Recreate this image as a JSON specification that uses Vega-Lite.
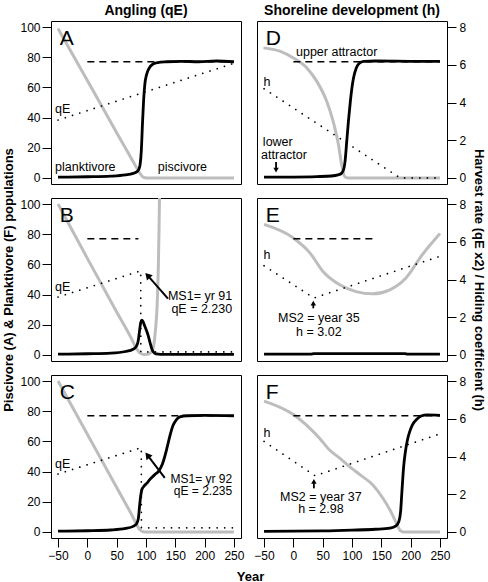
{
"$schema":"https://vega.github.io/schema/vega-lite/v6.json",
"padding":{"left":2,"top":3,"right":0,"bottom":0},
"bounds":"flush",
"columns":2,
"spacing":{"row":14,"column":16},
"config":{"font":"Liberation Sans","view":{"stroke":"black","strokeWidth":1},
 "axis":{"domain":false,"grid":false,"tickColor":"black","labelColor":"black","labelFontSize":12,"tickSize":9,"titleFontSize":13,"titleFontWeight":"bold","titleColor":"black"},
 "text":{"color":"black"}},
"datasets":{"d":[
{"p":"A","k":"F","year":-50,"val":99},{"p":"A","k":"F","year":0,"val":64.6},{"p":"A","k":"F","year":50,"val":30},{"p":"A","k":"F","year":80,"val":9.5},{"p":"A","k":"F","year":86,"val":5.3},{"p":"A","k":"F","year":90,"val":2.8},{"p":"A","k":"F","year":94,"val":0.9},{"p":"A","k":"F","year":98,"val":0.2},{"p":"A","k":"F","year":105,"val":0},{"p":"A","k":"F","year":250,"val":0},
{"p":"A","k":"A","year":-50,"val":0.5},{"p":"A","k":"A","year":0,"val":0.8},{"p":"A","k":"A","year":40,"val":1.2},{"p":"A","k":"A","year":65,"val":2},{"p":"A","k":"A","year":78,"val":3},{"p":"A","k":"A","year":84,"val":4},{"p":"A","k":"A","year":88,"val":6},{"p":"A","k":"A","year":90,"val":9},{"p":"A","k":"A","year":92,"val":18},{"p":"A","k":"A","year":94,"val":36},{"p":"A","k":"A","year":96,"val":52},{"p":"A","k":"A","year":98,"val":62},{"p":"A","k":"A","year":101,"val":68.5},{"p":"A","k":"A","year":105,"val":72.5},{"p":"A","k":"A","year":112,"val":75.5},{"p":"A","k":"A","year":120,"val":76.5},{"p":"A","k":"A","year":135,"val":77},{"p":"A","k":"A","year":160,"val":77.3},{"p":"A","k":"A","year":190,"val":77},{"p":"A","k":"A","year":220,"val":77.5},{"p":"A","k":"A","year":250,"val":77},
{"p":"A","k":"rate","year":-50,"val":3.07},{"p":"A","k":"rate","year":250,"val":6.08},
{"p":"A","k":"dash","year":0,"year2":250,"val":77},
{"p":"A","k":"letter","year":-47,"val":87.8,"t":"A"},
{"p":"A","k":"tl","year":-55,"val":46,"t":"qE"},{"p":"A","k":"tl","year":-55,"val":7.5,"t":"planktivore"},
{"p":"A","k":"tc","year":162,"val":7.5,"t":"piscivore"},

{"p":"B","k":"F","year":-50,"val":100},{"p":"B","k":"F","year":0,"val":64},{"p":"B","k":"F","year":50,"val":28.5},{"p":"B","k":"F","year":75,"val":11},{"p":"B","k":"F","year":82,"val":5.5},{"p":"B","k":"F","year":87,"val":2.5},{"p":"B","k":"F","year":92,"val":0.8},{"p":"B","k":"F","year":97,"val":0.3},{"p":"B","k":"F","year":102,"val":0.4},{"p":"B","k":"F","year":106,"val":1},{"p":"B","k":"F","year":110,"val":2.5},{"p":"B","k":"F","year":113,"val":6},{"p":"B","k":"F","year":116,"val":16},{"p":"B","k":"F","year":119,"val":33},{"p":"B","k":"F","year":121,"val":58},{"p":"B","k":"F","year":122.3,"val":85},{"p":"B","k":"F","year":123,"val":104},
{"p":"B","k":"A","year":-50,"val":0.5},{"p":"B","k":"A","year":0,"val":0.8},{"p":"B","k":"A","year":40,"val":1.2},{"p":"B","k":"A","year":65,"val":2.3},{"p":"B","k":"A","year":78,"val":3.8},{"p":"B","k":"A","year":84,"val":6},{"p":"B","k":"A","year":87,"val":10},{"p":"B","k":"A","year":89,"val":16},{"p":"B","k":"A","year":91,"val":21.5},{"p":"B","k":"A","year":93,"val":23},{"p":"B","k":"A","year":95,"val":22},{"p":"B","k":"A","year":98,"val":19},{"p":"B","k":"A","year":101,"val":16},{"p":"B","k":"A","year":104,"val":12.5},{"p":"B","k":"A","year":107,"val":8},{"p":"B","k":"A","year":110,"val":4},{"p":"B","k":"A","year":113,"val":1.8},{"p":"B","k":"A","year":117,"val":0.7},{"p":"B","k":"A","year":125,"val":0.4},{"p":"B","k":"A","year":250,"val":0.4},
{"p":"B","k":"rate","year":-50,"val":3.07},{"p":"B","k":"rate","year":91,"val":4.46},{"p":"B","k":"rate","year":91.2,"val":0.16},{"p":"B","k":"rate","year":250,"val":0.16},
{"p":"B","k":"dash","year":0,"year2":87,"val":77},
{"p":"B","k":"letter","year":-47,"val":87.8,"t":"B"},
{"p":"B","k":"tl","year":-55,"val":45.3,"t":"qE"},
{"p":"B","k":"tr","year":247,"val":39,"t":"MS1= yr 91"},{"p":"B","k":"tr","year":247,"val":30.3,"t":"qE = 2.230"},
{"p":"B","k":"arrow","year":137.5,"val":37.3,"year2":102.7,"val2":52.7},
{"p":"B","k":"head","year":102.7,"val":52.7},

{"p":"C","k":"F","year":-50,"val":100},{"p":"C","k":"F","year":0,"val":64.7},{"p":"C","k":"F","year":50,"val":29.5},{"p":"C","k":"F","year":75,"val":11.8},{"p":"C","k":"F","year":82,"val":6.5},{"p":"C","k":"F","year":86,"val":3.5},{"p":"C","k":"F","year":90,"val":1.3},{"p":"C","k":"F","year":95,"val":0.2},{"p":"C","k":"F","year":100,"val":0},{"p":"C","k":"F","year":250,"val":0},
{"p":"C","k":"A","year":-50,"val":0.5},{"p":"C","k":"A","year":0,"val":0.8},{"p":"C","k":"A","year":40,"val":1.3},{"p":"C","k":"A","year":65,"val":2.3},{"p":"C","k":"A","year":78,"val":3.7},{"p":"C","k":"A","year":84,"val":5.5},{"p":"C","k":"A","year":87,"val":9},{"p":"C","k":"A","year":89,"val":17},{"p":"C","k":"A","year":91,"val":24},{"p":"C","k":"A","year":93,"val":28},{"p":"C","k":"A","year":97,"val":30.5},{"p":"C","k":"A","year":102,"val":32.5},{"p":"C","k":"A","year":107,"val":35},{"p":"C","k":"A","year":115,"val":38},{"p":"C","k":"A","year":122,"val":40.5},{"p":"C","k":"A","year":128,"val":45},{"p":"C","k":"A","year":132,"val":50},{"p":"C","k":"A","year":136,"val":56},{"p":"C","k":"A","year":141,"val":64},{"p":"C","k":"A","year":146,"val":70.5},{"p":"C","k":"A","year":152,"val":74.5},{"p":"C","k":"A","year":158,"val":76.3},{"p":"C","k":"A","year":170,"val":77},{"p":"C","k":"A","year":200,"val":77.2},{"p":"C","k":"A","year":250,"val":77},
{"p":"C","k":"rate","year":-50,"val":3.07},{"p":"C","k":"rate","year":92,"val":4.47},{"p":"C","k":"rate","year":92.2,"val":0.22},{"p":"C","k":"rate","year":250,"val":0.22},
{"p":"C","k":"dash","year":0,"year2":250,"val":77},
{"p":"C","k":"letter","year":-47,"val":87.8,"t":"C"},
{"p":"C","k":"tl","year":-55,"val":45.2,"t":"qE"},
{"p":"C","k":"tr","year":247,"val":35.4,"t":"MS1= yr 92"},{"p":"C","k":"tr","year":247,"val":26.9,"t":"qE = 2.235"},
{"p":"C","k":"arrow","year":132,"val":35.8,"year2":102.5,"val2":50.9},
{"p":"C","k":"head","year":102.5,"val":50.9},

{"p":"D","k":"F","year":-51,"val":86.2},{"p":"D","k":"F","year":-23,"val":84},{"p":"D","k":"F","year":0,"val":79.5},{"p":"D","k":"F","year":23,"val":72.9},{"p":"D","k":"F","year":40,"val":64},{"p":"D","k":"F","year":57,"val":50.7},{"p":"D","k":"F","year":68,"val":37.3},{"p":"D","k":"F","year":77,"val":21.8},{"p":"D","k":"F","year":82.5,"val":8.4},{"p":"D","k":"F","year":88,"val":0.7},{"p":"D","k":"F","year":93,"val":0},{"p":"D","k":"F","year":250,"val":0},
{"p":"D","k":"A","year":-50,"val":0.5},{"p":"D","k":"A","year":0,"val":0.6},{"p":"D","k":"A","year":40,"val":0.9},{"p":"D","k":"A","year":65,"val":1.3},{"p":"D","k":"A","year":76,"val":2},{"p":"D","k":"A","year":82,"val":3},{"p":"D","k":"A","year":86,"val":6},{"p":"D","k":"A","year":88,"val":10.5},{"p":"D","k":"A","year":91,"val":24},{"p":"D","k":"A","year":94,"val":38},{"p":"D","k":"A","year":97,"val":50},{"p":"D","k":"A","year":100,"val":60},{"p":"D","k":"A","year":103,"val":67},{"p":"D","k":"A","year":107,"val":72.5},{"p":"D","k":"A","year":112,"val":75.8},{"p":"D","k":"A","year":120,"val":77.3},{"p":"D","k":"A","year":140,"val":77.5},{"p":"D","k":"A","year":200,"val":77.3},{"p":"D","k":"A","year":250,"val":77.2},
{"p":"D","k":"rate","year":-50,"val":4.73},{"p":"D","k":"rate","year":182,"val":0},{"p":"D","k":"rate","year":250,"val":0},
{"p":"D","k":"dash","year":0,"year2":250,"val":77},
{"p":"D","k":"letter","year":-47,"val":87.8,"t":"D"},
{"p":"D","k":"tl","year":-51,"val":63.5,"t":"h"},{"p":"D","k":"tl","year":4.5,"val":83.5,"t":"upper attractor"},{"p":"D","k":"tl","year":-52,"val":23.5,"t":"lower"},{"p":"D","k":"tl","year":-55,"val":15,"t":"attractor"},
{"p":"D","k":"arrow","year":-29.5,"val":10.5,"year2":-29.5,"val2":5.2},
{"p":"D","k":"head","year":-29.5,"val":5.2},

{"p":"E","k":"F","year":-50,"val":86.5},{"p":"E","k":"F","year":0,"val":77.5},{"p":"E","k":"F","year":28.5,"val":67.5},{"p":"E","k":"F","year":50.5,"val":55.3},{"p":"E","k":"F","year":79,"val":46.5},{"p":"E","k":"F","year":107,"val":42},{"p":"E","k":"F","year":135,"val":40.5},{"p":"E","k":"F","year":163.5,"val":43},{"p":"E","k":"F","year":192,"val":51},{"p":"E","k":"F","year":220,"val":66.5},{"p":"E","k":"F","year":250,"val":80.5},
{"p":"E","k":"A","year":-50,"val":0.5},{"p":"E","k":"A","year":30,"val":0.5},{"p":"E","k":"A","year":35,"val":0.9},{"p":"E","k":"A","year":190,"val":0.9},{"p":"E","k":"A","year":195,"val":0.5},{"p":"E","k":"A","year":250,"val":0.5},
{"p":"E","k":"rate","year":-50,"val":4.73},{"p":"E","k":"rate","year":35,"val":3.02},{"p":"E","k":"rate","year":250,"val":5.23},
{"p":"E","k":"dash","year":0,"year2":138,"val":77},
{"p":"E","k":"letter","year":-47,"val":87.8,"t":"E"},
{"p":"E","k":"tl","year":-51,"val":66,"t":"h"},
{"p":"E","k":"tc","year":43.5,"val":24.2,"t":"MS2 = year 35"},{"p":"E","k":"tc","year":43.5,"val":15,"t":"h = 3.02"},
{"p":"E","k":"arrow","year":34,"val":30.9,"year2":34,"val2":34.3},
{"p":"E","k":"head","year":34,"val":34.3},

{"p":"F","k":"F","year":-50,"val":86.7},{"p":"F","k":"F","year":0,"val":77.8},{"p":"F","k":"F","year":30,"val":68},{"p":"F","k":"F","year":45,"val":62},{"p":"F","k":"F","year":60,"val":55},{"p":"F","k":"F","year":79,"val":48.9},{"p":"F","k":"F","year":100,"val":42},{"p":"F","k":"F","year":114,"val":37.8},{"p":"F","k":"F","year":136,"val":31},{"p":"F","k":"F","year":153,"val":22.2},{"p":"F","k":"F","year":168,"val":12.2},{"p":"F","k":"F","year":176,"val":5.5},{"p":"F","k":"F","year":182,"val":1.1},{"p":"F","k":"F","year":188,"val":0},{"p":"F","k":"F","year":250,"val":0},
{"p":"F","k":"A","year":-50,"val":0.4},{"p":"F","k":"A","year":50,"val":0.7},{"p":"F","k":"A","year":100,"val":1.2},{"p":"F","k":"A","year":140,"val":1.8},{"p":"F","k":"A","year":165,"val":2.5},{"p":"F","k":"A","year":175,"val":4},{"p":"F","k":"A","year":180,"val":7},{"p":"F","k":"A","year":183,"val":14},{"p":"F","k":"A","year":185,"val":26},{"p":"F","k":"A","year":188,"val":43},{"p":"F","k":"A","year":191,"val":53},{"p":"F","k":"A","year":194,"val":60},{"p":"F","k":"A","year":198,"val":66},{"p":"F","k":"A","year":203,"val":71},{"p":"F","k":"A","year":210,"val":74.5},{"p":"F","k":"A","year":218,"val":76.8},{"p":"F","k":"A","year":228,"val":77.6},{"p":"F","k":"A","year":250,"val":77.3},
{"p":"F","k":"rate","year":-50,"val":4.8},{"p":"F","k":"rate","year":37,"val":2.98},{"p":"F","k":"rate","year":250,"val":5.2},
{"p":"F","k":"dash","year":0,"year2":250,"val":77},
{"p":"F","k":"letter","year":-47,"val":87.8,"t":"F"},
{"p":"F","k":"tl","year":-51,"val":65.5,"t":"h"},
{"p":"F","k":"tc","year":47,"val":23.3,"t":"MS2 = year 37"},{"p":"F","k":"tc","year":47,"val":15,"t":"h = 2.98"},
{"p":"F","k":"arrow","year":35,"val":28.9,"year2":35,"val2":33.5},
{"p":"F","k":"head","year":35,"val":33.5}
]},
"concat":[
{"width":190,"height":163,
 "title":{"text":"Angling (qE)","frame":"group","anchor":"middle","fontSize":14,"fontWeight":"bold","color":"black","offset":3},
 "data":{"name":"d"},"transform":[{"filter":"datum.p==='A'"}],
 "encoding":{"x":{"field":"year","type":"quantitative","scale":{"domain":[-62,262],"nice":false,"zero":false},"axis":null}},
 "layer":[
  {"encoding":{"y":{"field":"val","type":"quantitative","scale":{"domain":[-4,104],"nice":false,"zero":false},"axis":{"values":[0,20,40,60,80,100],"title":null,"labelPadding":2}}},
   "layer":[
    {"transform":[{"filter":"datum.k==='F'"}],"mark":{"type":"line","color":"#bdbdbd","strokeWidth":3,"interpolate":"monotone"}},
    {"transform":[{"filter":"datum.k==='A'"}],"mark":{"type":"line","color":"black","strokeWidth":2.8,"interpolate":"monotone"}},
    {"transform":[{"filter":"datum.k==='dash'"}],"mark":{"type":"rule","color":"black","strokeWidth":1.3,"strokeDash":[7,5]},"encoding":{"x2":{"field":"year2"}}},
    {"transform":[{"filter":"datum.k==='letter'"}],"mark":{"type":"text","fontSize":21,"align":"left","baseline":"alphabetic"},"encoding":{"text":{"field":"t"}}},
    {"transform":[{"filter":"datum.k==='tl'"}],"mark":{"type":"text","fontSize":12.5,"align":"left","baseline":"middle"},"encoding":{"text":{"field":"t"}}},
    {"transform":[{"filter":"datum.k==='tc'"}],"mark":{"type":"text","fontSize":12.5,"align":"center","baseline":"middle"},"encoding":{"text":{"field":"t"}}}
   ]},
  {"transform":[{"filter":"datum.k==='rate'"}],"mark":{"type":"line","color":"black","strokeWidth":1.7,"strokeDash":[0.1,7.5],"strokeCap":"round"},
   "encoding":{"y":{"field":"val","type":"quantitative","scale":{"domain":[-0.32,8.32],"nice":false,"zero":false},"axis":null}}}
 ],
 "resolve":{"scale":{"y":"independent"}}},

{"width":190,"height":163,
 "title":{"text":"Shoreline development (h)","frame":"group","anchor":"middle","fontSize":14,"fontWeight":"bold","color":"black","offset":3},
 "data":{"name":"d"},"transform":[{"filter":"datum.p==='D'"}],
 "encoding":{"x":{"field":"year","type":"quantitative","scale":{"domain":[-62,262],"nice":false,"zero":false},"axis":null}},
 "layer":[
  {"encoding":{"y":{"field":"val","type":"quantitative","scale":{"domain":[-4,104],"nice":false,"zero":false},"axis":null}},
   "layer":[
    {"transform":[{"filter":"datum.k==='F'"}],"mark":{"type":"line","color":"#bdbdbd","strokeWidth":3,"interpolate":"monotone"}},
    {"transform":[{"filter":"datum.k==='A'"}],"mark":{"type":"line","color":"black","strokeWidth":2.8,"interpolate":"monotone"}},
    {"transform":[{"filter":"datum.k==='dash'"}],"mark":{"type":"rule","color":"black","strokeWidth":1.3,"strokeDash":[7,5]},"encoding":{"x2":{"field":"year2"}}},
    {"transform":[{"filter":"datum.k==='arrow'"}],"mark":{"type":"rule","color":"black","strokeWidth":1.8},"encoding":{"x2":{"field":"year2"},"y2":{"field":"val2"}}},
    {"transform":[{"filter":"datum.k==='head'"}],"mark":{"type":"point","shape":"triangle-up","filled":true,"color":"black","opacity":1,"size":28,"angle":180}},
    {"transform":[{"filter":"datum.k==='letter'"}],"mark":{"type":"text","fontSize":21,"align":"left","baseline":"alphabetic"},"encoding":{"text":{"field":"t"}}},
    {"transform":[{"filter":"datum.k==='tl'"}],"mark":{"type":"text","fontSize":12.5,"align":"left","baseline":"middle"},"encoding":{"text":{"field":"t"}}}
   ]},
  {"transform":[{"filter":"datum.k==='rate'"}],"mark":{"type":"line","color":"black","strokeWidth":1.7,"strokeDash":[0.1,7.5],"strokeCap":"round"},
   "encoding":{"y":{"field":"val","type":"quantitative","scale":{"domain":[-0.32,8.32],"nice":false,"zero":false},"axis":{"orient":"right","values":[0,2,4,6,8],"title":null,"labelPadding":3}}}}
 ],
 "resolve":{"scale":{"y":"independent"}}},

{"width":190,"height":163,
 "data":{"name":"d"},"transform":[{"filter":"datum.p==='B'"}],
 "encoding":{"x":{"field":"year","type":"quantitative","scale":{"domain":[-62,262],"nice":false,"zero":false},"axis":null}},
 "layer":[
  {"encoding":{"y":{"field":"val","type":"quantitative","scale":{"domain":[-4,104],"nice":false,"zero":false},"axis":{"values":[0,20,40,60,80,100],"title":"Piscivore (A) & Planktivore (F) populations","titlePadding":4,"labelPadding":2}}},
   "layer":[
    {"transform":[{"filter":"datum.k==='F'"}],"mark":{"type":"line","color":"#bdbdbd","strokeWidth":3,"interpolate":"monotone","clip":true}},
    {"transform":[{"filter":"datum.k==='A'"}],"mark":{"type":"line","color":"black","strokeWidth":2.8,"interpolate":"monotone"}},
    {"transform":[{"filter":"datum.k==='dash'"}],"mark":{"type":"rule","color":"black","strokeWidth":1.3,"strokeDash":[7,5]},"encoding":{"x2":{"field":"year2"}}},
    {"transform":[{"filter":"datum.k==='arrow'"}],"mark":{"type":"rule","color":"black","strokeWidth":2},"encoding":{"x2":{"field":"year2"},"y2":{"field":"val2"}}},
    {"transform":[{"filter":"datum.k==='head'"}],"mark":{"type":"point","shape":"triangle-up","filled":true,"color":"black","opacity":1,"size":60,"angle":318}},
    {"transform":[{"filter":"datum.k==='letter'"}],"mark":{"type":"text","fontSize":21,"align":"left","baseline":"alphabetic"},"encoding":{"text":{"field":"t"}}},
    {"transform":[{"filter":"datum.k==='tl'"}],"mark":{"type":"text","fontSize":12.5,"align":"left","baseline":"middle"},"encoding":{"text":{"field":"t"}}},
    {"transform":[{"filter":"datum.k==='tr'"}],"mark":{"type":"text","fontSize":12.5,"align":"right","baseline":"middle"},"encoding":{"text":{"field":"t"}}}
   ]},
  {"transform":[{"filter":"datum.k==='rate'"}],"mark":{"type":"line","color":"black","strokeWidth":1.7,"strokeDash":[0.1,7.5],"strokeCap":"round"},
   "encoding":{"y":{"field":"val","type":"quantitative","scale":{"domain":[-0.32,8.32],"nice":false,"zero":false},"axis":null}}}
 ],
 "resolve":{"scale":{"y":"independent"}}},

{"width":190,"height":163,
 "data":{"name":"d"},"transform":[{"filter":"datum.p==='E'"}],
 "encoding":{"x":{"field":"year","type":"quantitative","scale":{"domain":[-62,262],"nice":false,"zero":false},"axis":null}},
 "layer":[
  {"encoding":{"y":{"field":"val","type":"quantitative","scale":{"domain":[-4,104],"nice":false,"zero":false},"axis":null}},
   "layer":[
    {"transform":[{"filter":"datum.k==='F'"}],"mark":{"type":"line","color":"#bdbdbd","strokeWidth":3,"interpolate":"monotone"}},
    {"transform":[{"filter":"datum.k==='A'"}],"mark":{"type":"line","color":"black","strokeWidth":2.8,"interpolate":"monotone"}},
    {"transform":[{"filter":"datum.k==='dash'"}],"mark":{"type":"rule","color":"black","strokeWidth":1.3,"strokeDash":[7,5]},"encoding":{"x2":{"field":"year2"}}},
    {"transform":[{"filter":"datum.k==='arrow'"}],"mark":{"type":"rule","color":"black","strokeWidth":1.8},"encoding":{"x2":{"field":"year2"},"y2":{"field":"val2"}}},
    {"transform":[{"filter":"datum.k==='head'"}],"mark":{"type":"point","shape":"triangle-up","filled":true,"color":"black","opacity":1,"size":30,"angle":0}},
    {"transform":[{"filter":"datum.k==='letter'"}],"mark":{"type":"text","fontSize":21,"align":"left","baseline":"alphabetic"},"encoding":{"text":{"field":"t"}}},
    {"transform":[{"filter":"datum.k==='tl'"}],"mark":{"type":"text","fontSize":12.5,"align":"left","baseline":"middle"},"encoding":{"text":{"field":"t"}}},
    {"transform":[{"filter":"datum.k==='tc'"}],"mark":{"type":"text","fontSize":12.5,"align":"center","baseline":"middle"},"encoding":{"text":{"field":"t"}}}
   ]},
  {"transform":[{"filter":"datum.k==='rate'"}],"mark":{"type":"line","color":"black","strokeWidth":1.7,"strokeDash":[0.1,7.5],"strokeCap":"round"},
   "encoding":{"y":{"field":"val","type":"quantitative","scale":{"domain":[-0.32,8.32],"nice":false,"zero":false},"axis":{"orient":"right","values":[0,2,4,6,8],"title":"Harvest rate (qE x2) / Hiding coefficient (h)","titlePadding":6,"labelPadding":3}}}}
 ],
 "resolve":{"scale":{"y":"independent"}}},

{"width":190,"height":163,
 "data":{"name":"d"},"transform":[{"filter":"datum.p==='C'"}],
 "encoding":{"x":{"field":"year","type":"quantitative","scale":{"domain":[-62,262],"nice":false,"zero":false},"axis":{"values":[-50,0,50,100,150,200,250],"labelFlush":false,"labelPadding":3,"title":"Year","titleX":199,"titlePadding":9}}},
 "layer":[
  {"encoding":{"y":{"field":"val","type":"quantitative","scale":{"domain":[-4,104],"nice":false,"zero":false},"axis":{"values":[0,20,40,60,80,100],"title":null,"labelPadding":2}}},
   "layer":[
    {"transform":[{"filter":"datum.k==='F'"}],"mark":{"type":"line","color":"#bdbdbd","strokeWidth":3,"interpolate":"monotone"}},
    {"transform":[{"filter":"datum.k==='A'"}],"mark":{"type":"line","color":"black","strokeWidth":2.8,"interpolate":"monotone"}},
    {"transform":[{"filter":"datum.k==='dash'"}],"mark":{"type":"rule","color":"black","strokeWidth":1.3,"strokeDash":[7,5]},"encoding":{"x2":{"field":"year2"}}},
    {"transform":[{"filter":"datum.k==='arrow'"}],"mark":{"type":"rule","color":"black","strokeWidth":2},"encoding":{"x2":{"field":"year2"},"y2":{"field":"val2"}}},
    {"transform":[{"filter":"datum.k==='head'"}],"mark":{"type":"point","shape":"triangle-up","filled":true,"color":"black","opacity":1,"size":60,"angle":322}},
    {"transform":[{"filter":"datum.k==='letter'"}],"mark":{"type":"text","fontSize":21,"align":"left","baseline":"alphabetic"},"encoding":{"text":{"field":"t"}}},
    {"transform":[{"filter":"datum.k==='tl'"}],"mark":{"type":"text","fontSize":12.5,"align":"left","baseline":"middle"},"encoding":{"text":{"field":"t"}}},
    {"transform":[{"filter":"datum.k==='tr'"}],"mark":{"type":"text","fontSize":12,"align":"right","baseline":"middle"},"encoding":{"text":{"field":"t"}}}
   ]},
  {"transform":[{"filter":"datum.k==='rate'"}],"mark":{"type":"line","color":"black","strokeWidth":1.7,"strokeDash":[0.1,7.5],"strokeCap":"round"},
   "encoding":{"y":{"field":"val","type":"quantitative","scale":{"domain":[-0.32,8.32],"nice":false,"zero":false},"axis":null}}}
 ],
 "resolve":{"scale":{"y":"independent"}}},

{"width":190,"height":163,
 "data":{"name":"d"},"transform":[{"filter":"datum.p==='F'"}],
 "encoding":{"x":{"field":"year","type":"quantitative","scale":{"domain":[-62,262],"nice":false,"zero":false},"axis":{"values":[-50,0,50,100,150,200,250],"labelFlush":false,"labelPadding":3,"title":null}}},
 "layer":[
  {"encoding":{"y":{"field":"val","type":"quantitative","scale":{"domain":[-4,104],"nice":false,"zero":false},"axis":null}},
   "layer":[
    {"transform":[{"filter":"datum.k==='F'"}],"mark":{"type":"line","color":"#bdbdbd","strokeWidth":3,"interpolate":"monotone"}},
    {"transform":[{"filter":"datum.k==='A'"}],"mark":{"type":"line","color":"black","strokeWidth":2.8,"interpolate":"monotone"}},
    {"transform":[{"filter":"datum.k==='dash'"}],"mark":{"type":"rule","color":"black","strokeWidth":1.3,"strokeDash":[7,5]},"encoding":{"x2":{"field":"year2"}}},
    {"transform":[{"filter":"datum.k==='arrow'"}],"mark":{"type":"rule","color":"black","strokeWidth":1.8},"encoding":{"x2":{"field":"year2"},"y2":{"field":"val2"}}},
    {"transform":[{"filter":"datum.k==='head'"}],"mark":{"type":"point","shape":"triangle-up","filled":true,"color":"black","opacity":1,"size":30,"angle":0}},
    {"transform":[{"filter":"datum.k==='letter'"}],"mark":{"type":"text","fontSize":21,"align":"left","baseline":"alphabetic"},"encoding":{"text":{"field":"t"}}},
    {"transform":[{"filter":"datum.k==='tl'"}],"mark":{"type":"text","fontSize":12.5,"align":"left","baseline":"middle"},"encoding":{"text":{"field":"t"}}},
    {"transform":[{"filter":"datum.k==='tc'"}],"mark":{"type":"text","fontSize":12.5,"align":"center","baseline":"middle"},"encoding":{"text":{"field":"t"}}}
   ]},
  {"transform":[{"filter":"datum.k==='rate'"}],"mark":{"type":"line","color":"black","strokeWidth":1.7,"strokeDash":[0.1,7.5],"strokeCap":"round"},
   "encoding":{"y":{"field":"val","type":"quantitative","scale":{"domain":[-0.32,8.32],"nice":false,"zero":false},"axis":{"orient":"right","values":[0,2,4,6,8],"title":null,"labelPadding":3}}}}
 ],
 "resolve":{"scale":{"y":"independent"}}}
]
}
